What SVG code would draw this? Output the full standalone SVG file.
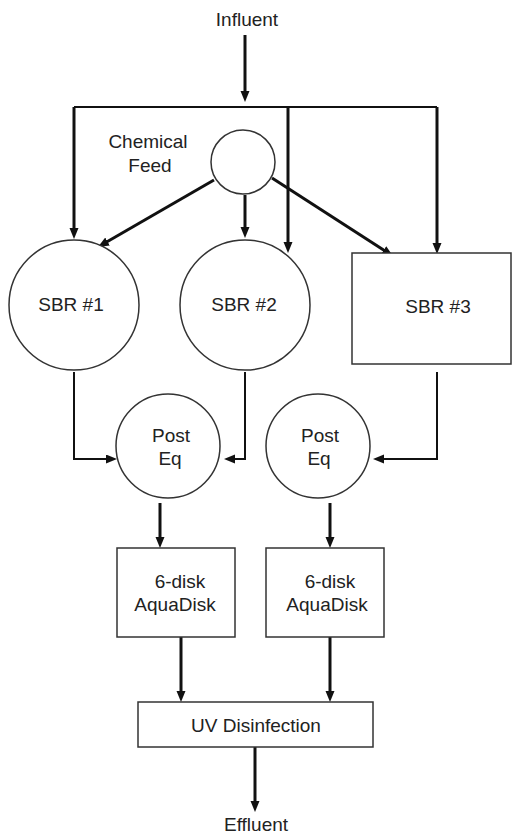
<svg xmlns="http://www.w3.org/2000/svg" width="514" height="834" viewBox="0 0 514 834">
<style>
.shape{fill:#fff;stroke:#333;stroke-width:1.5}
.lbl{font-family:"Liberation Sans",Arial,sans-serif;font-size:19px;fill:#222;text-anchor:middle}
.c{fill:none;stroke:#111;stroke-width:3}
.t{fill:none;stroke:#111;stroke-width:2}
</style>
<defs>
<marker id="ah" markerUnits="userSpaceOnUse" markerWidth="12" markerHeight="10" refX="3" refY="4.5" orient="auto">
<path d="M0,0 L11,4.5 L0,9 z" fill="#111"/>
</marker>
</defs>
<rect width="514" height="834" fill="#fff"/>
<g id="connectors">
<path class="c" d="M245,35 V94" marker-end="url(#ah)"/>
<path class="t" d="M74,107 H437"/>
<path class="c" d="M74,107 V231" marker-end="url(#ah)"/>
<path class="c" d="M288,107 V245" marker-end="url(#ah)"/>
<path class="c" d="M437,107 V246" marker-end="url(#ah)"/>
<path class="c" d="M214,180 L104.9,243" marker-end="url(#ah)"/>
<path class="c" d="M245,195 V230" marker-end="url(#ah)"/>
<path class="c" d="M272,178 L386.3,251.7" marker-end="url(#ah)"/>
<path class="t" d="M74,372 V459 H109" marker-end="url(#ah)"/>
<path class="t" d="M245,372 V459 H232" marker-end="url(#ah)"/>
<path class="t" d="M437,372 V459 H381" marker-end="url(#ah)"/>
<path class="c" d="M160,503 V540" marker-end="url(#ah)"/>
<path class="c" d="M330,503 V540" marker-end="url(#ah)"/>
<path class="c" d="M181,637 V694" marker-end="url(#ah)"/>
<path class="c" d="M330,637 V694" marker-end="url(#ah)"/>
<path class="c" d="M255,747 V804" marker-end="url(#ah)"/>
</g>
<g id="influent"><text class="lbl" x="247" y="26">Influent</text></g>
<g id="chemical-feed">
<circle class="shape" cx="243" cy="162" r="32"/>
<text class="lbl" x="148" y="148">Chemical</text>
<text class="lbl" x="150" y="172">Feed</text>
</g>
<g id="sbr1"><circle class="shape" cx="74" cy="305" r="65"/><text class="lbl" x="71" y="311">SBR #1</text></g>
<g id="sbr2"><circle class="shape" cx="245" cy="305" r="65"/><text class="lbl" x="244" y="311">SBR #2</text></g>
<g id="sbr3"><rect class="shape" x="352" y="253" width="159" height="111"/><text class="lbl" x="438" y="313">SBR #3</text></g>
<g id="posteq1"><circle class="shape" cx="168" cy="446" r="52"/><text class="lbl" x="171" y="442">Post</text><text class="lbl" x="170" y="465">Eq</text></g>
<g id="posteq2"><circle class="shape" cx="318" cy="446" r="52"/><text class="lbl" x="320" y="442">Post</text><text class="lbl" x="319" y="465">Eq</text></g>
<g id="aquadisk1"><rect class="shape" x="117" y="548" width="118" height="89"/><text class="lbl" x="180" y="588">6-disk</text><text class="lbl" x="175" y="611">AquaDisk</text></g>
<g id="aquadisk2"><rect class="shape" x="266" y="548" width="118" height="89"/><text class="lbl" x="330" y="588">6-disk</text><text class="lbl" x="327" y="611">AquaDisk</text></g>
<g id="uv"><rect class="shape" x="138" y="702" width="235" height="45"/><text class="lbl" x="256" y="732">UV Disinfection</text></g>
<g id="effluent"><text class="lbl" x="256" y="831">Effluent</text></g>
</svg>
